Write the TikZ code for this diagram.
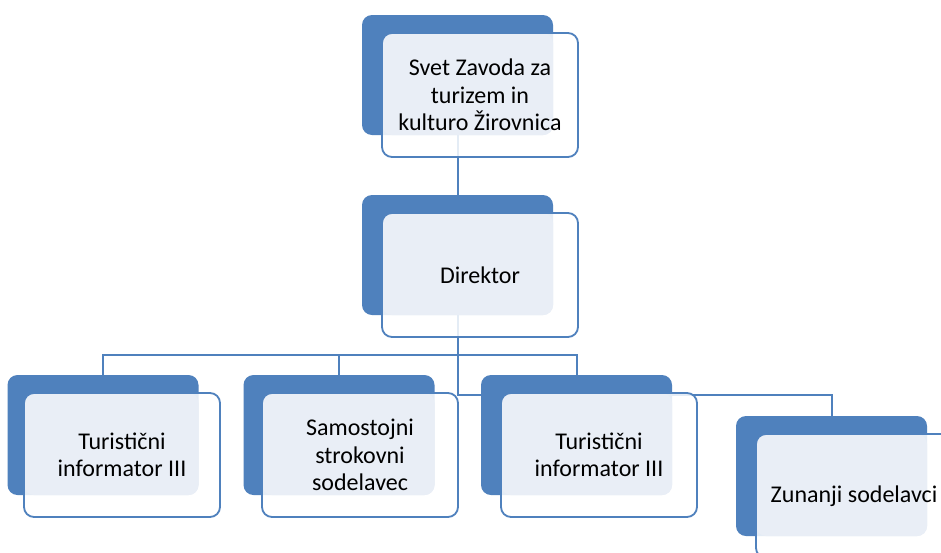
\documentclass[tikz,border=0pt]{standalone}
\usepackage{fontspec}
\setmainfont{Carlito}
\pgfdeclarelayer{bg}
\pgfdeclarelayer{top}
\pgfsetlayers{bg,main,top}
\definecolor{dk}{HTML}{4F81BD}
\definecolor{lightfill}{HTML}{E9EEF6}
\definecolor{edge}{HTML}{4F81BD}
\tikzset{
  darkbox/.style={fill=dk, rounded corners=10pt, minimum width=191pt, minimum height=120pt, inner sep=0pt, outer sep=0pt},
  frontbox/.style={draw=edge, line width=1.8pt, rounded corners=10pt, minimum width=196pt, minimum height=124pt, inner sep=0pt, outer sep=0pt, align=center, text=black, font=\fontsize{24}{27.5}\selectfont},
  conn/.style={draw=edge, line width=2pt},
}
\newcommand{\frontfill}[2]{%
  \fill[white, fill opacity=0.85, rounded corners=10pt] (#1.south west) rectangle (#1.north east);
  \fill[lightfill, rounded corners=10pt] (#1.north west) rectangle (#2.south east);
}
\begin{document}
\begin{tikzpicture}[x=1pt, y=-1pt]
\useasboundingbox (0,0) rectangle (941,552);
\clip (0,0) rectangle (941,552);
% front boxes with text (top layer)
\begin{pgfonlayer}{top}
\node[frontbox] (f0) at (480,95) {Svet Zavoda za\\turizem in\\kulturo Žirovnica};
\node[frontbox] (f1) at (480,275) {Direktor};
\node[frontbox] (f2) at (122,455) {Turistični\\informator III};
\node[frontbox] (f3) at (360,455) {Samostojni\\strokovni\\sodelavec};
\node[frontbox] (f4) at (599,455) {Turistični\\informator III};
\node[frontbox] (f5) at (854,496) {Zunanji sodelavci};
\end{pgfonlayer}
% dark back boxes
\node[darkbox] (d0) at (457.5,75) {};
\node[darkbox] (d1) at (457.5,255) {};
\node[darkbox] (d2) at (103,435) {};
\node[darkbox] (d3) at (339,435) {};
\node[darkbox] (d4) at (576.5,435) {};
\node[darkbox] (d5) at (831.5,476) {};
% front fills
\frontfill{f0}{d0}
\frontfill{f1}{d1}
\frontfill{f2}{d2}
\frontfill{f3}{d3}
\frontfill{f4}{d4}
\frontfill{f5}{d5}
% connectors
\coordinate (h1) at (457.5,355);
\coordinate (h2) at (457.5,395);
\begin{pgfonlayer}{bg}
\fill[white] (0,0) rectangle (941,552);
\draw[conn] (d0.south) -- (d1.north);
\draw[conn] (d1.south) -- (h2) -| (d5.north);
\draw[conn] (d2.north) |- (h1) -| (d4.north);
\draw[conn] (d3.north) -- (d3.north |- h1);
\end{pgfonlayer}
\end{tikzpicture}
\end{document}
